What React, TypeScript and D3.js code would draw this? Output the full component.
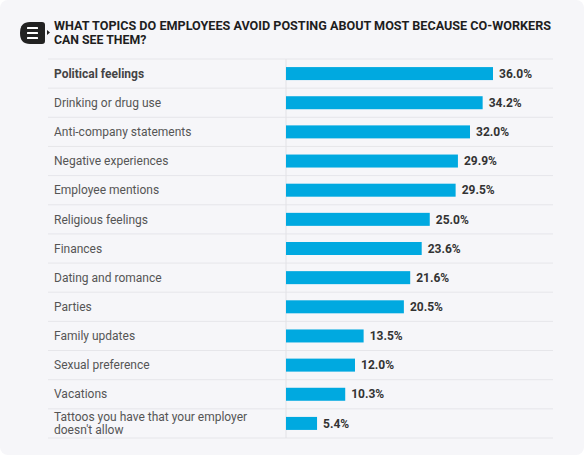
import React from "react";
import * as d3 from "d3";

const categories = [
  "Political feelings",
  "Drinking or drug use",
  "Anti-company statements",
  "Negative experiences",
  "Employee mentions",
  "Religious feelings",
  "Finances",
  "Dating and romance",
  "Parties",
  "Family updates",
  "Sexual preference",
  "Vacations",
  "Tattoos you have that your employer|doesn't allow",
];
const values = [36.0, 34.2, 32.0, 29.9, 29.5, 25.0, 23.6, 21.6, 20.5, 13.5, 12.0, 10.3, 5.4];
const titleLines = [
  "WHAT TOPICS DO EMPLOYEES AVOID POSTING ABOUT MOST BECAUSE CO-WORKERS",
  "CAN SEE THEM?",
];

const W = 584;
const H = 465;
const FONT = "Roboto, 'Noto Sans', sans-serif";

export default function App() {
  const y = d3.scaleBand<number>().domain(d3.range(categories.length)).range([59, 438]).paddingInner(0).paddingOuter(0);
  const x = d3.scaleLinear().domain([0, 36]).range([286, 493]);
  const barH = 13;
  const bounds = d3.range(categories.length + 1).map((i) => 59 + i * y.step());

  return (
    <div style={{ position: "absolute", left: 0, top: 0, width: W, height: H, background: "#fff" }}>
      <svg width={W} height={H} style={{ display: "block" }}>
        <rect x={0} y={0} width={W} height={455} rx={8} fill="#f6f6f9" />
        {/* icon */}
        <path
          d="M30,22 H42 Q45,22 45,25 V41 Q45,44 42,44 H30 Q20,44 20,33 Q20,22 30,22 Z"
          fill="#222"
        />
        {[28, 33, 38].map((yy) => (
          <rect key={yy} x={27} y={yy - 1} width={11} height={2} fill="#fff" rx={0.5} />
        ))}
        <path d="M47,30 L50,32.5 L47,35 Z" fill="#222" />
        {titleLines.map((t, i) => (
          <text
            key={i}
            x={54}
            y={30 + i * 13.5}
            fontFamily={FONT}
            fontWeight={700}
            fontSize={12.3}
            fill="#1e1e1e"
            textLength={i === 0 ? 497 : undefined}
            lengthAdjust="spacingAndGlyphs"
          >
            {t}
          </text>
        ))}
        {/* separators */}
        {bounds.map((b, i) => (
          <line key={i} x1={48} x2={553} y1={b} y2={b} stroke="#e6e6ea" strokeWidth={1} />
        ))}
        <line x1={x(0)} x2={x(0)} y1={59} y2={438} stroke="#e2e2e6" strokeWidth={1} />
        {categories.map((c, i) => {
          const cy = (y(i) as number) + y.step() / 2;
          const lines = c.split("|");
          return (
            <g key={c}>
              {lines.map((l, j) => (
                <text
                  key={j}
                  x={54}
                  y={cy + (j - (lines.length - 1) / 2) * 12.5}
                  dy="0.35em"
                  fontFamily={FONT}
                  fontSize={12}
                  fontWeight={i === 0 ? 700 : 400}
                  fill={i === 0 ? "#444" : "#555"}
                >
                  {l}
                </text>
              ))}
              <rect x={x(0)} y={cy - barH / 2} width={x(values[i]) - x(0)} height={barH} fill="#00a9e0" />
              <text
                x={x(values[i]) + 6}
                y={cy}
                dy="0.35em"
                fontFamily={FONT}
                fontSize={12}
                fontWeight={700}
                fill="#333"
              >
                {values[i].toFixed(1) + "%"}
              </text>
            </g>
          );
        })}
      </svg>
    </div>
  );
}
